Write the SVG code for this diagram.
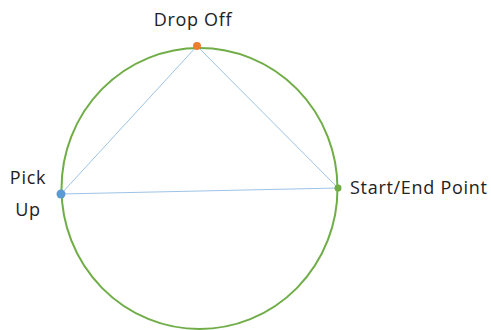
<svg xmlns="http://www.w3.org/2000/svg" width="491" height="330" viewBox="0 0 491 330">
<style>
.lbl{font-family:"Open Sans","Liberation Sans",sans-serif;font-size:18px;letter-spacing:0.7px;fill:#222}
.edge{stroke:#9DC3E6;stroke-width:1;fill:none}
</style>
<rect width="491" height="330" fill="#fff"/>
<g id="circle"><ellipse cx="199.5" cy="188.5" rx="138" ry="140.5" fill="none" stroke="#70AD47" stroke-width="2"/></g>
<g id="connectors">
<line class="edge" x1="197" y1="46" x2="61" y2="194"/>
<line class="edge" x1="197" y1="46" x2="338" y2="188"/>
<line class="edge" x1="61" y1="194" x2="338" y2="188" stroke="#5B9BD5"/>
</g>
<g id="dropoff"><circle cx="197" cy="46" r="4" fill="#ED7D31"/><text class="lbl" x="193" y="26" text-anchor="middle">Drop Off</text></g>
<g id="pickup"><circle cx="61" cy="194" r="4.5" fill="#5B9BD5"/><text class="lbl" x="28" y="184" text-anchor="middle">Pick</text><text class="lbl" x="28" y="216" text-anchor="middle">Up</text></g>
<g id="startend"><circle cx="338" cy="188" r="3.5" fill="#70AD47"/><text class="lbl" x="350" y="194">Start/End Point</text></g>
</svg>
